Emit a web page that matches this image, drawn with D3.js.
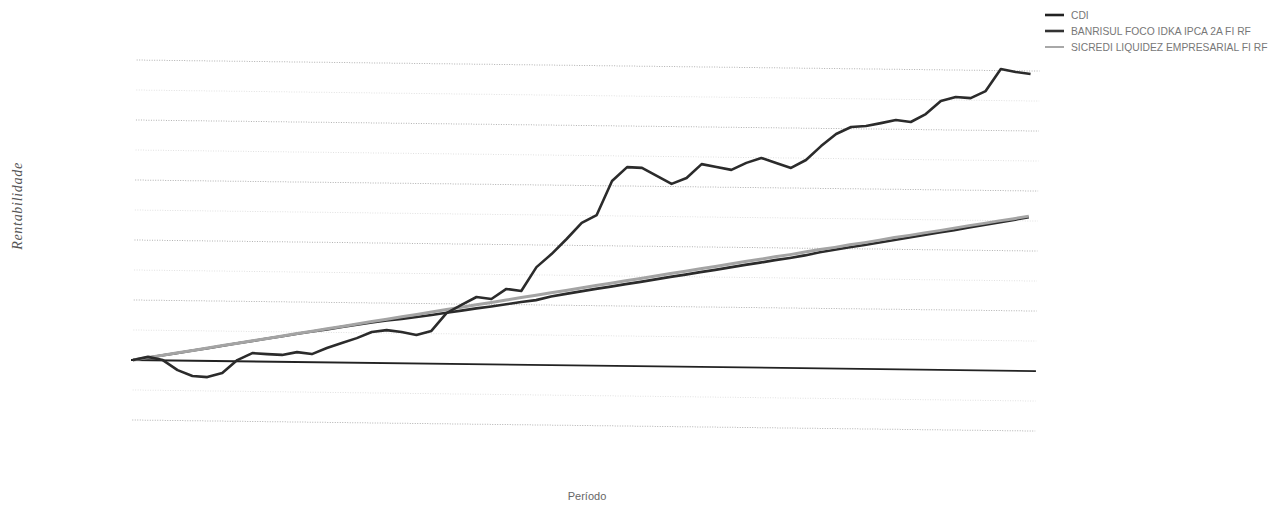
<!DOCTYPE html>
<html>
<head>
<meta charset="utf-8">
<script src="https://cdn.jsdelivr.net/npm/d3@7"></script>
<style>
    html, body { margin: 0; padding: 0; background: #fff; }
    svg { display: block; }
</style>
</head>
<body>
<div id="chart"></div>
<script>
// --- Data ---
const periods = d3.range(0, 61);
const seriesNames = ['CDI', 'BANRISUL FOCO IDKA IPCA 2A FI RF', 'SICREDI LIQUIDEZ EMPRESARIAL FI RF'];

const cdi = [0.00, 0.08, 0.17, 0.25, 0.34, 0.42, 0.51, 0.60, 0.68, 0.77, 0.85, 0.94, 1.02, 1.10, 1.19,
    1.27, 1.35, 1.42, 1.48, 1.55, 1.62, 1.70, 1.78, 1.86, 1.93, 2.01, 2.09, 2.16, 2.29, 2.38,
    2.47, 2.56, 2.64, 2.73, 2.81, 2.90, 2.99, 3.07, 3.16, 3.24, 3.33, 3.42, 3.50, 3.59, 3.67,
    3.76, 3.87, 3.96, 4.05, 4.13, 4.22, 4.31, 4.40, 4.49, 4.58, 4.66, 4.76, 4.85, 4.94, 5.03, 5.12];

const banrisul = [0.00, 0.11, 0.01, -0.32, -0.51, -0.54, -0.40, 0.04, 0.28, 0.25, 0.23, 0.33, 0.27, 0.48, 0.65,
    0.82, 1.03, 1.10, 1.04, 0.95, 1.09, 1.69, 1.97, 2.24, 2.18, 2.52, 2.46, 3.26, 3.70, 4.21,
    4.75, 5.02, 6.16, 6.63, 6.61, 6.35, 6.09, 6.29, 6.76, 6.67, 6.58, 6.82, 6.99, 6.83, 6.67,
    6.94, 7.41, 7.82, 8.06, 8.10, 8.20, 8.31, 8.25, 8.52, 8.96, 9.10, 9.07, 9.31, 10.05, 9.96, 9.90];

const sicredi = [0.00, 0.09, 0.17, 0.26, 0.34, 0.43, 0.52, 0.60, 0.69, 0.77, 0.86, 0.95, 1.03, 1.12, 1.20,
    1.29, 1.38, 1.46, 1.55, 1.63, 1.72, 1.81, 1.89, 1.98, 2.06, 2.15, 2.24, 2.32, 2.41, 2.49,
    2.58, 2.67, 2.75, 2.84, 2.92, 3.01, 3.10, 3.18, 3.27, 3.35, 3.44, 3.53, 3.61, 3.70, 3.78,
    3.87, 3.96, 4.04, 4.13, 4.21, 4.30, 4.39, 4.47, 4.56, 4.64, 4.73, 4.82, 4.90, 4.99, 5.07, 5.16];

const gridValues = [-2, -1, 0, 1, 2, 3, 4, 5, 6, 7, 8, 9, 10];

// --- Layout ---
const width = 1276, height = 509;
const plot = { left: 133, right: 1027, top: 60, bottom: 420, edge: 1036 };
const tilt = 0.7; // the scanned page is slightly rotated

const svg = d3.select('#chart')
    .append('svg')
    .attr('width', width)
    .attr('height', height);

const x = d3.scaleLinear().domain([0, 60]).range([plot.left, plot.right]);
const y = d3.scaleLinear().domain([-2, 10]).range([plot.bottom, plot.top]);

const g = svg.append('g')
    .attr('transform', `rotate(${tilt}, ${plot.left}, ${y(0)})`);

// gridlines
g.selectAll('line.grid')
    .data(gridValues.filter(v => v !== 0))
    .enter()
    .append('line')
    .attr('class', 'grid')
    .attr('x1', plot.left)
    .attr('x2', plot.edge)
    .attr('y1', d => y(d))
    .attr('y2', d => y(d))
    .attr('stroke', d => d % 2 === 0 ? '#b0b0b0' : '#e0e0e0')
    .attr('stroke-width', 1)
    .attr('stroke-dasharray', '1,1.5');

// zero axis
g.append('line')
    .attr('x1', plot.left - 2)
    .attr('x2', plot.edge)
    .attr('y1', y(0))
    .attr('y2', y(0))
    .attr('stroke', '#222')
    .attr('stroke-width', 1.8);

const line = d3.line()
    .x((d, i) => x(periods[i]))
    .y(d => y(d));

g.append('path')
    .datum(cdi)
    .attr('fill', 'none')
    .attr('stroke', '#2b2b2b')
    .attr('stroke-width', 2.6)
    .attr('d', line);

g.append('path')
    .datum(sicredi)
    .attr('fill', 'none')
    .attr('stroke', '#a4a4a4')
    .attr('stroke-width', 3)
    .attr('d', line);

g.append('path')
    .datum(banrisul)
    .attr('fill', 'none')
    .attr('stroke', '#2b2b2b')
    .attr('stroke-width', 2.6)
    .attr('stroke-linejoin', 'round')
    .attr('d', line);

// --- Legend ---
const legendColors = ['#222', '#333', '#a8a8a8'];
const legendWidths = [2.6, 2.6, 2];
const legend = svg.append('g').attr('transform', 'translate(1045, 15)');

seriesNames.forEach((name, i) => {
    const row = legend.append('g').attr('transform', `translate(0, ${i * 16})`);
    row.append('line')
        .attr('x1', 0).attr('x2', 19)
        .attr('y1', 0).attr('y2', 0)
        .attr('stroke', legendColors[i])
        .attr('stroke-width', legendWidths[i]);
    row.append('text')
        .attr('x', 26)
        .attr('y', 3.5)
        .attr('font-family', 'Liberation Sans, Arial, sans-serif')
        .attr('font-size', 10.3)
        .attr('fill', '#777')
        .text(name);
});

// --- Axis titles ---
svg.append('text')
    .attr('transform', 'translate(22, 206) rotate(-90)')
    .attr('text-anchor', 'middle')
    .attr('font-family', 'Liberation Serif, Times New Roman, serif')
    .attr('font-style', 'italic')
    .attr('font-size', 14)
    .attr('letter-spacing', 0.7)
    .attr('fill', '#555')
    .text('Rentabilidade');

svg.append('text')
    .attr('x', 587)
    .attr('y', 500)
    .attr('text-anchor', 'middle')
    .attr('font-family', 'Liberation Sans, Arial, sans-serif')
    .attr('font-size', 11)
    .attr('fill', '#666')
    .text('Período');
</script>
</body>
</html>
